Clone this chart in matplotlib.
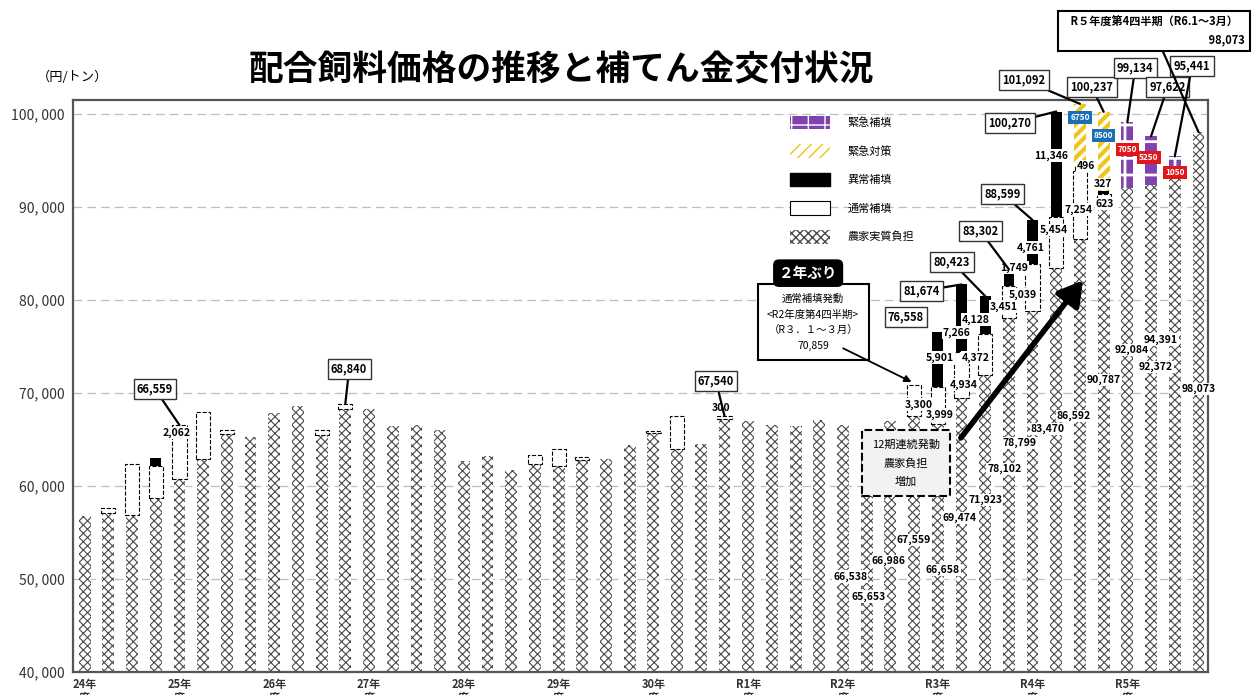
import numpy as np
import matplotlib
matplotlib.use("Agg")
import matplotlib.pyplot as plt
from matplotlib.patches import Patch
from matplotlib.ticker import FuncFormatter

plt.rcParams['font.family'] = ['Noto Sans CJK JP', 'DejaVu Sans']

# quarterly data, H24 Q1 .. R5 Q4 (yen / ton)
years = ['24年', '25年', '26年', '27年', '28年', '29年', '30年', 'R1年', 'R2年', 'R3年', 'R4年', 'R5年']

farmer = np.array([
    56750, 57100, 56900, 58750, 60800, 62900, 65600, 65300,
    67900, 68600, 65450, 68300, 68300, 66500, 66600, 66040,
    62700, 63200, 61700, 62400, 62200, 62800, 62900, 64400,
    65700, 64000, 64500, 67240, 67000, 66600, 66400, 67100,
    66538, 65653, 66986, 67559, 66658, 69474, 71923, 78102,
    78799, 83470, 86592, 90787, 92084, 92372, 94391, 98073])

normal = np.zeros(48)
normal[[1, 2, 3, 4, 5, 6, 10, 11, 19, 20, 21, 24, 25, 27]] = [
    500, 5500, 3450, 5759, 5100, 400, 550, 540, 900, 1800, 300, 200, 3500, 300]
normal[35:44] = [3300, 3999, 4934, 4372, 3451, 5039, 5454, 7254, 623]

abnormal = np.zeros(48)
abnormal[3] = 800
abnormal[36:44] = [5901, 7266, 4128, 1749, 4761, 11346, 496, 327]

measure = np.zeros(48)
measure[42:44] = [6750, 8500]

supp = np.zeros(48)
supp[44:47] = [7050, 5250, 1050]

total = farmer + normal + abnormal + measure + supp

C_YELLOW = '#f0c419'
C_PURPLE = '#8042ad'
C_GREY = '#4a4a4a'

fig = plt.figure(figsize=(12.55, 6.95), dpi=100)
ax = fig.add_axes([0.0582, 0.0331, 0.9043, 0.8229])

x = np.arange(48)


def draw(vals, bottom, width, **kw):
    m = vals > 0
    ax.bar(x[m], vals[m], bottom=bottom[m], width=width, zorder=2, **kw)


with plt.rc_context({'hatch.linewidth': 0.8}):
    ax.bar(x, farmer - 40000, bottom=40000, width=0.5, facecolor='white',
           edgecolor=C_GREY, hatch='xxxx', linewidth=0, zorder=2)
b = farmer.astype(float)
draw(normal, b, 0.6, facecolor='white', edgecolor='black', linestyle='--', linewidth=0.8)
b = b + normal
draw(abnormal, b, 0.45, facecolor='black', edgecolor='black', linewidth=0)
b = b + abnormal
with plt.rc_context({'hatch.linewidth': 3.0}):
    draw(measure, b, 0.5, facecolor='white', edgecolor=C_YELLOW, hatch='///', linewidth=0)
with plt.rc_context({'hatch.linewidth': 2.0}):
    draw(supp, b, 0.5, facecolor=C_PURPLE, edgecolor='white', hatch='+', linewidth=0)

ax.set_xlim(-0.49, 47.4)
ax.set_ylim(40000, 101500)
ax.set_yticks(np.arange(40000, 100001, 10000))
ax.yaxis.set_major_formatter(FuncFormatter(lambda v, p: f"{int(v):,}".replace(',', ', ')))
ax.set_xticks(np.arange(0, 48, 4))
ax.set_xticklabels([y + '\n度' for y in years], fontsize=8, fontweight='bold', linespacing=1.0)
ax.tick_params(axis='both', length=0, colors='#333333')
ax.tick_params(axis='y', labelsize=10, pad=6)
ax.tick_params(axis='x', pad=4)
ax.yaxis.grid(True, linestyle=(0, (7, 4)), color='#bdbdbd', linewidth=0.9)
ax.set_axisbelow(True)
for s in ax.spines.values():
    s.set_color('#555555')
    s.set_linewidth(1.6)

fig.text(0.447, 0.899, '配合飼料価格の推移と補てん金交付状況', ha='center', va='center',
         fontsize=25, fontweight='bold')
fig.text(0.058, 0.888, '（円/トン）', ha='center', va='center', fontsize=9.5)

# legend
with plt.rc_context({'hatch.linewidth': 2.0}):
    handles = [
        Patch(facecolor=C_PURPLE, edgecolor='white', hatch='+', linewidth=0),
        Patch(facecolor='white', edgecolor=C_YELLOW, hatch='///', linewidth=0),
        Patch(facecolor='black', edgecolor='black'),
        Patch(facecolor='white', edgecolor='black', linewidth=0.8),
        Patch(facecolor='white', edgecolor=C_GREY, hatch='xxxx', linewidth=0),
    ]
ax.legend(handles, ['緊急補填', '緊急対策', '異常補填', '通常補填', '農家実質負担'],
          loc='upper left', bbox_to_anchor=(0.623, 0.99), frameon=False,
          handlelength=3.6, handleheight=1.5, labelspacing=1.35, fontsize=8,
          handletextpad=1.6)

box = dict(boxstyle='square,pad=0.3', fc='white', ec='#333333', lw=1.0)
line = dict(arrowstyle='-', lw=1.6, color='black', shrinkA=0, shrinkB=0)
nfont = dict(fontsize=7.5, fontweight='bold', ha='center', va='center')

# boxed totals with leader lines
boxed = [(4, 2.97, 70420), (11, 11.16, 72570), (27, 26.64, 71280),
         (37, 35.3, 80960), (38, 36.6, 84080), (39, 37.8, 87400),
         (40, 38.75, 91380), (41, 39.05, 99020), (42, 39.64, 103640),
         (43, 42.5, 102890), (44, 44.33, 104930), (45, 45.7, 102890),
         (46, 46.73, 105150)]
for i, tx, ty in boxed:
    ax.annotate(f"{int(total[i]):,}", xy=(i, total[i]), xytext=(tx, ty),
                bbox=dict(box, pad=0.45), arrowprops=line, annotation_clip=False,
                zorder=5, **dict(nfont, fontsize=8))

ax.text(34.66, 78160, f"{int(total[36]):,}", bbox=dict(box, pad=0.45), zorder=5,
        **dict(nfont, fontsize=8))

ax.annotate('   R５年度第4四半期（R6.1～3月）   \n                             98,073', xy=(47, total[47]),
            xytext=(48.97, 107300), annotation_clip=False, zorder=5,
            arrowprops=line, fontsize=8, fontweight='bold', ha='right', va='bottom',
            bbox=dict(boxstyle='square,pad=0.45', fc='white', ec='black', lw=1.5),
            linespacing=1.4)

# values on the bars
wbg = dict(boxstyle='square,pad=0.1', fc='white', ec='none')
ax.text(3.9, 65690, '2,062', bbox=wbg, zorder=4, **nfont)
on_bar = [(27, normal, 26.86, 68380),
          (41, abnormal, 40.8, 95530), (41, normal, 40.9, 87560),
          (40, abnormal, 39.9, 85630), (39, abnormal, 39.2, 83480),
          (40, normal, 39.6, 80580), (39, normal, 38.8, 79290),
          (38, abnormal, 37.6, 77890), (37, abnormal, 36.8, 76490),
          (36, abnormal, 36.1, 73800), (38, normal, 37.6, 73800),
          (37, normal, 37.1, 70900), (35, normal, 35.2, 68750), (36, normal, 36.1, 67680),
          (42, normal, 41.95, 89720), (42, abnormal, 42.25, 94450),
          (43, abnormal, 42.97, 92520), (43, normal, 43.05, 90300)]
for i, arr, tx, ty in on_bar:
    ax.text(tx, ty, f"{int(arr[i]):,}", bbox=wbg, zorder=4, **nfont)

farmer_pos = [(32, 32.3, 50280), (33, 33.1, 48130), (34, 33.9, 51950),
              (35, 35.0, 54200), (36, 36.2, 51000), (37, 36.9, 56580),
              (38, 38.0, 58510), (39, 38.8, 61850), (40, 39.45, 64600),
              (41, 40.65, 66100), (42, 41.75, 67540), (43, 43.0, 71410),
              (44, 44.2, 74640), (45, 45.2, 72800), (46, 45.4, 75760),
              (47, 47.0, 70420)]
for i, tx, ty in farmer_pos:
    ax.text(tx, ty, f"{int(farmer[i]):,}", bbox=wbg, zorder=4, **nfont)

# emergency amounts in coloured tags
tags = [(42, measure, '#1a6fb5', 42.0, 99630), (43, measure, '#1a6fb5', 43.0, 97690),
        (44, supp, '#e0161b', 44.0, 96190), (45, supp, '#e0161b', 44.9, 95330),
        (46, supp, '#e0161b', 46.0, 93720)]
for i, arr, col, tx, ty in tags:
    ax.text(tx, ty, f"{int(arr[i])}", color='white', fontsize=6, fontweight='bold',
            ha='center', va='center', zorder=6,
            bbox=dict(boxstyle='square,pad=0.25', fc=col, ec='none'))

# first normal compensation in two years
ax.text(30.74, 77600, '通常補填発動\n<R2年度第4四半期>\n（R３．１～３月）\n70,859',
        ha='center', va='center', fontsize=7.5, linespacing=1.7, zorder=5,
        bbox=dict(boxstyle='square,pad=0.9', fc='white', ec='black', lw=1.5))
ax.text(30.53, 82890, '２年ぶり', ha='center', va='center', fontsize=10.5,
        fontweight='bold', color='white', zorder=6,
        bbox=dict(boxstyle='round,pad=0.35', fc='black', ec='black'))
ax.annotate('', xy=(35, total[35] + 200), xytext=(31.9, 74940),
            arrowprops=dict(arrowstyle='-|>', lw=1.3, color='black', mutation_scale=10),
            zorder=5)

# 12 consecutive quarters
ax.text(34.66, 62470, '12期連続発動\n農家負担\n増加', ha='center', va='center',
        fontsize=8, linespacing=1.9, zorder=5,
        bbox=dict(boxstyle='square,pad=0.9', fc='#f2f2f2', ec='black', lw=1.5, ls='--'))
ax.annotate('', xy=(42.2, 82350), xytext=(36.9, 64940),
            arrowprops=dict(arrowstyle='-|>,head_length=1.2,head_width=0.7', lw=4,
                            color='black', mutation_scale=12), zorder=5)

fig.savefig('out.png', dpi=100)
